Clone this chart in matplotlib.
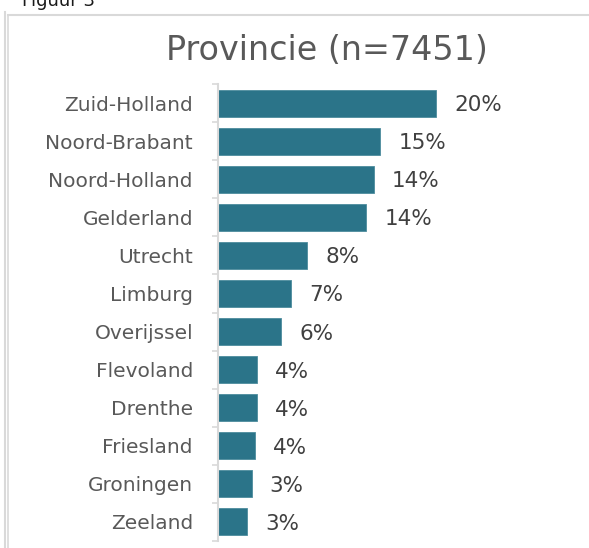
import matplotlib
matplotlib.use("Agg")
import matplotlib.pyplot as plt
from matplotlib.lines import Line2D

# ── Data ─────────────────────────────────────────────────────────────────────
provinces = ["Zuid-Holland", "Noord-Brabant", "Noord-Holland", "Gelderland",
             "Utrecht", "Limburg", "Overijssel", "Flevoland", "Drenthe",
             "Friesland", "Groningen", "Zeeland"]
shares = [20.0, 14.9, 14.3, 13.6, 8.2, 6.7, 5.8, 3.6, 3.6, 3.4, 3.1, 2.7]
share_labels = ["20%", "15%", "14%", "14%", "8%", "7%", "6%", "4%", "4%",
                "4%", "3%", "3%"]
title = "Provincie (n=7451)"
caption = "Figuur 3"

# ── Style ────────────────────────────────────────────────────────────────────
W, H = 589, 548
BAR_COLOR = "#2b7489"
TEXT_GRAY = "#595959"
LINE_GRAY = "#d9d9d9"
plt.rcParams["font.family"] = "DejaVu Sans"


def fx(px):
    return px / W


def fy(py):
    return 1 - py / H


fig = plt.figure(figsize=(W / 100, H / 100), dpi=100)

# axes: zero line at x=218 px, categories between y=84 and y=541 px
ax = fig.add_axes([fx(218), fy(541), fx(327), (541 - 84) / H])
ypos = list(range(len(provinces)))
ax.barh(ypos, shares, height=0.71, color=BAR_COLOR, edgecolor="#4d8c9d",
        linewidth=0.6)
ax.set_xlim(0, 30)
ax.set_ylim(len(provinces) - 0.5, -0.5)

for y, v, lab in zip(ypos, shares, share_labels):
    ax.annotate(lab, (v, y), xytext=(18, -2), textcoords="offset pixels",
                ha="left", va="center", fontsize=15.5, color="#404040")

ax.set_yticks(ypos)
ax.set_yticklabels(provinces, fontsize=14.5, color=TEXT_GRAY)
ax.set_yticks([y + 0.5 for y in range(-1, len(provinces))], minor=True)
ax.tick_params(axis="y", which="major", length=0, pad=18)
ax.tick_params(axis="y", which="minor", length=4.3, width=1.2, color=LINE_GRAY,
               direction="out")
ax.set_xticks([])
for s in ["top", "right", "bottom"]:
    ax.spines[s].set_visible(False)
ax.spines["left"].set_color(LINE_GRAY)
ax.spines["left"].set_linewidth(1.5)

fig.text(fx(327), fy(50), title, ha="center", va="center", fontsize=24,
         color=TEXT_GRAY)
fig.text(fx(22), fy(6), caption, ha="left", va="baseline", fontsize=13,
         color="#1a1a1a")

# page / chart frame lines
fig.add_artist(Line2D([fx(4.5), fx(4.5)], [fy(12), 0], color=LINE_GRAY, lw=1.5))
fig.add_artist(Line2D([fx(8), fx(8)], [fy(15), 0], color=LINE_GRAY, lw=1.2))
fig.add_artist(Line2D([fx(8), 1], [fy(15), fy(15)], color=LINE_GRAY, lw=1.5))

fig.savefig("out.png", dpi=100)
